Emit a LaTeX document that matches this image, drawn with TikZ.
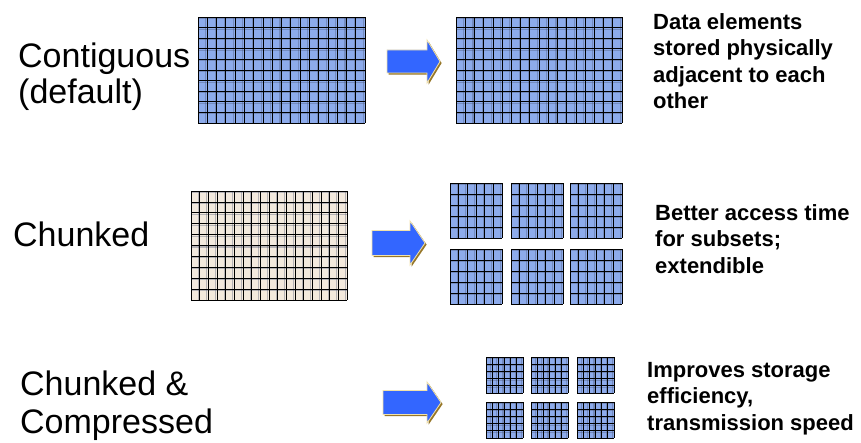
\documentclass[tikz,border=0pt]{standalone}
\usepackage{fontspec}
\setmainfont{Liberation Sans}

\definecolor{cellblue}{RGB}{141,171,235}
\definecolor{cellbeige}{RGB}{243,233,221}
\definecolor{arrowblue}{RGB}{51,102,255}
\definecolor{arrowgold}{RGB}{150,118,40}
\definecolor{arrowrim}{RGB}{240,225,170}
\definecolor{shadeline}{RGB}{70,80,110}

\tikzset{
	gridline/.style={line width=0.75pt, black},
	gridshade/.style={line width=1.1pt, shadeline, opacity=0.35},
	arrowshadow/.style={fill=arrowgold},
	arrowbody/.style={fill=arrowblue, draw=arrowrim, line width=0.8pt},
	kindlabel/.style={anchor=north west, inner sep=0pt, align=left},
	notetext/.style={anchor=north west, inner sep=0pt, align=left, font=\fontsize{22}{26.5}\selectfont\bfseries},
}

% grid: x0, y0, width, height, columns, rows, fill
\newcommand{\datagrid}[7]{%
	\begin{scope}[shift={(#1,#2)}]
		\fill[#7] (0,0) rectangle (#3,#4);
		\foreach \k in {1,...,#5} \draw[gridshade] ({\k*#3/#5-1.5},0) -- ++(0,#4);
		\foreach \k in {1,...,#6} \draw[gridshade] (0,{\k*#4/#6-1.5}) -- ++(#3,0);
		\foreach \k in {0,...,#5} \draw[gridline] ({\k*#3/#5},0) -- ++(0,#4);
		\foreach \k in {0,...,#6} \draw[gridline] (0,{\k*#4/#6}) -- ++(#3,0);
	\end{scope}}

% block arrow: tail x, head base x, tip x, centre y, half shaft, half head
\newcommand{\blockarrow}[6]{%
	\path[arrowshadow, shift={(1.6,-1.6)}] (#1,#4+#5) -- (#2,#4+#5) -- (#2,#4+#6) -- (#3,#4)
		-- (#2,#4-#6) -- (#2,#4-#5) -- (#1,#4-#5) -- cycle;
	\path[arrowbody] (#1,#4+#5) -- (#2,#4+#5) -- (#2,#4+#6) -- (#3,#4)
		-- (#2,#4-#6) -- (#2,#4-#5) -- (#1,#4-#5) -- cycle;}

\begin{document}
\begin{tikzpicture}[x=1pt, y=1pt]
	\useasboundingbox (0,0) rectangle (861,443);
	
	% labels
	\node[kindlabel, font=\fontsize{34}{36}\selectfont] (contig) at (18,400) {Contiguous\\(default)};
	\node[kindlabel, font=\fontsize{34}{36}\selectfont] (chunk) at (13,221) {Chunked};
	\node[kindlabel, font=\fontsize{34}{38}\selectfont] (chunkcomp) at (20,72) {Chunked \&\\Compressed};
	
	% contiguous
	\datagrid{198}{320}{167}{106}{18}{10}{cellblue}
	\blockarrow{387}{427}{440}{381.5}{11.5}{21.5}
	\datagrid{456}{320}{166}{106}{18}{10}{cellblue}
	
	% chunked
	\datagrid{191}{143}{156}{109}{18}{10}{cellbeige}
	\blockarrow{372}{410}{425}{200}{12.5}{22}
	\foreach \cx in {450,511,570}{
		\datagrid{\cx}{205}{52}{55}{6}{5}{cellblue}
		\datagrid{\cx}{139}{52}{55}{6}{5}{cellblue}
	}
	
	% chunked and compressed
	\blockarrow{383}{427}{441}{40.5}{12}{20.5}
	\foreach \cx in {486,531,577}{
		\datagrid{\cx}{50}{37}{36}{6}{5}{cellblue}
		\datagrid{\cx}{5}{37}{36}{6}{5}{cellblue}
	}
	
	% notes
	\node[notetext] (contignote) at (653,430) {Data elements\\stored physically\\adjacent to each\\other};
	\node[notetext] (chunknote) at (655,239) {Better access time\\for subsets;\\extendible};
	\node[notetext] (compnote) at (647,81) {Improves storage\\efficiency,\\transmission speed};
\end{tikzpicture}
\end{document}
